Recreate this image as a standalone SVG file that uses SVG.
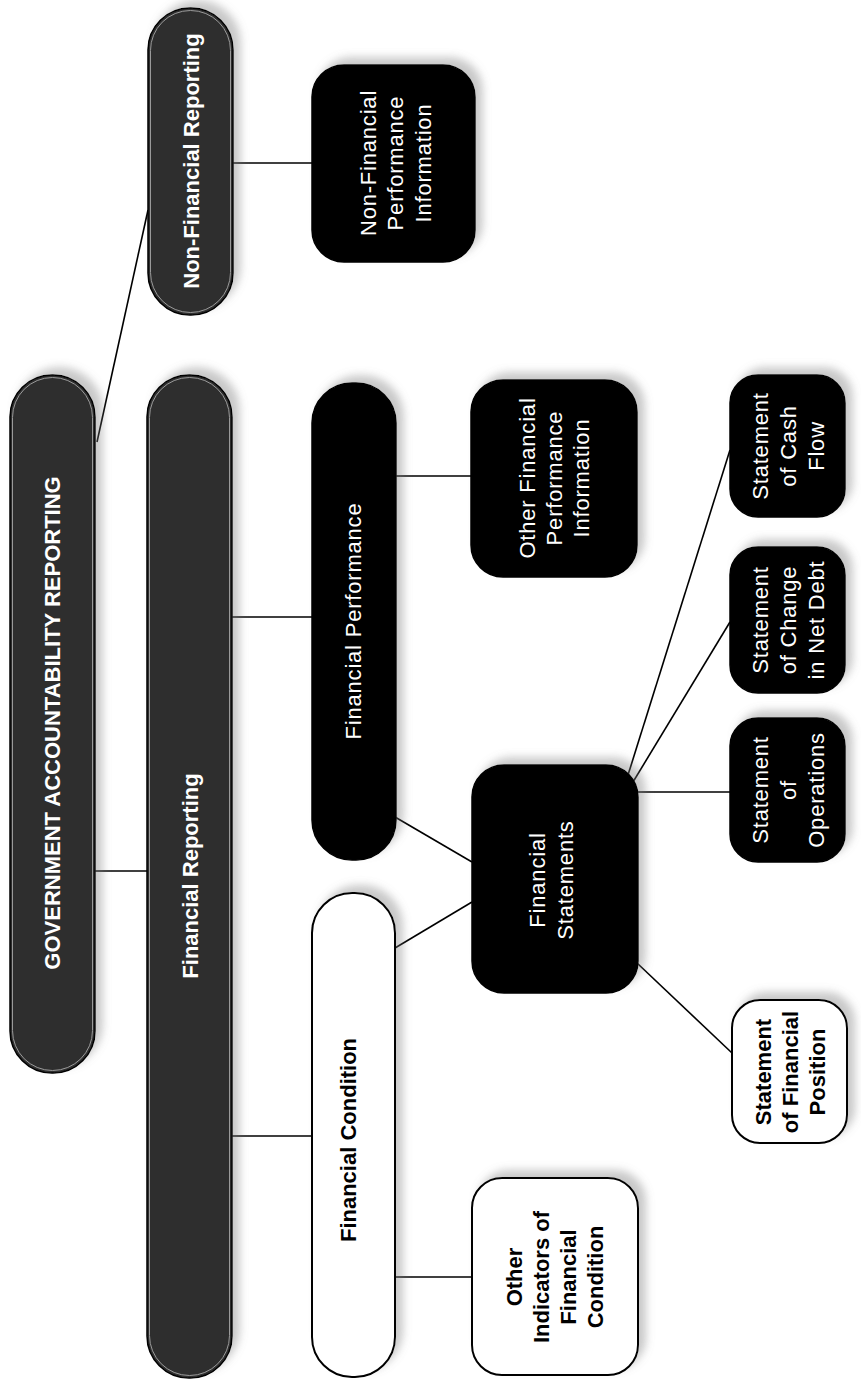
<svg xmlns="http://www.w3.org/2000/svg" width="861" height="1380" viewBox="0 0 861 1380">
<style>
.bg{fill:#ffffff}
.gray{fill:#2e2e2e;stroke:#000;stroke-width:1.5}
.grayin{fill:none;stroke:#9a9a9a;stroke-width:1}
.blk{fill:#000;stroke:#000;stroke-width:1.5}
.wht{fill:#fff;stroke:#000;stroke-width:2}
.con{stroke:#000;stroke-width:1.6;fill:none}
text{font-family:"Liberation Sans",Arial,sans-serif;font-size:22px;text-anchor:middle}
.tb{font-weight:bold;fill:#fff}
.tbk{font-weight:bold;fill:#000}
.tw{fill:#fff;letter-spacing:0.8px}
</style>
<defs>
<filter id="sh" x="-30%" y="-30%" width="160%" height="160%">
<feGaussianBlur in="SourceAlpha" stdDeviation="4" result="b"/>
<feOffset in="b" dx="7" dy="-7" result="o"/>
<feFlood flood-color="#777" flood-opacity="0.4"/>
<feComposite in2="o" operator="in" result="s"/>
<feMerge><feMergeNode in="s"/><feMergeNode in="SourceGraphic"/></feMerge>
</filter>
</defs>
<rect class="bg" x="0" y="0" width="861" height="1380"/>

<g id="connectors">
<line class="con" x1="97" y1="442" x2="148" y2="210"/>
<line class="con" x1="233" y1="163" x2="312" y2="163"/>
<line class="con" x1="95" y1="871" x2="147" y2="871"/>
<line class="con" x1="232" y1="617" x2="312" y2="617"/>
<line class="con" x1="232" y1="1136" x2="312" y2="1136"/>
<line class="con" x1="396" y1="476" x2="471" y2="476"/>
<line class="con" x1="395" y1="817" x2="472" y2="862"/>
<line class="con" x1="395" y1="948" x2="472" y2="902"/>
<line class="con" x1="395" y1="1277" x2="472" y2="1277"/>
<line class="con" x1="638" y1="792" x2="730" y2="792"/>
<line class="con" x1="633" y1="782" x2="730" y2="622"/>
<line class="con" x1="628" y1="775" x2="730" y2="450"/>
<line class="con" x1="637" y1="963" x2="732" y2="1053"/>
</g>

<g id="gov">
<rect class="gray" filter="url(#sh)" x="10" y="375" width="85" height="698" rx="42"/>
<rect class="grayin" x="12.5" y="377.5" width="80" height="693" rx="40"/>
<text class="tb" transform="translate(52,723) rotate(-90)" y="8">GOVERNMENT ACCOUNTABILITY REPORTING</text>
</g>

<g id="nonfin-reporting">
<rect class="gray" filter="url(#sh)" x="148" y="8" width="85" height="307" rx="42"/>
<rect class="grayin" x="150.5" y="10.5" width="80" height="302" rx="40"/>
<text class="tb" transform="translate(191,161) rotate(-90)" y="8">Non-Financial Reporting</text>
</g>

<g id="fin-reporting">
<rect class="gray" filter="url(#sh)" x="147" y="375" width="85" height="1003" rx="42"/>
<rect class="grayin" x="149.5" y="377.5" width="80" height="998" rx="40"/>
<text class="tb" transform="translate(190,876) rotate(-90)" y="8">Financial Reporting</text>
</g>

<g id="nonfin-perf">
<rect class="blk" filter="url(#sh)" x="312" y="65" width="163" height="197" rx="32"/>
<text class="tw" transform="translate(395,163) rotate(-90)"><tspan x="0" y="-19.5">Non-Financial</tspan><tspan x="0" y="8">Performance</tspan><tspan x="0" y="35.5">Information</tspan></text>
</g>

<g id="fin-perf">
<rect class="blk" filter="url(#sh)" x="312" y="383" width="84" height="477" rx="40"/>
<text class="tw" transform="translate(353,621) rotate(-90)" y="8">Financial Performance</text>
</g>

<g id="fin-cond">
<rect class="wht" filter="url(#sh)" x="312" y="893" width="83" height="484" rx="40"/>
<text class="tbk" transform="translate(348,1140) rotate(-90)" y="8">Financial Condition</text>
</g>

<g id="other-fin-perf">
<rect class="blk" filter="url(#sh)" x="471" y="380" width="166" height="197" rx="32"/>
<text class="tw" transform="translate(554,478) rotate(-90)"><tspan x="0" y="-19">Other Financial</tspan><tspan x="0" y="8">Performance</tspan><tspan x="0" y="35">Information</tspan></text>
</g>

<g id="fin-statements">
<rect class="blk" filter="url(#sh)" x="472" y="765" width="166" height="228" rx="32"/>
<text class="tw" transform="translate(551,880) rotate(-90)"><tspan x="0" y="-6">Financial</tspan><tspan x="0" y="22">Statements</tspan></text>
</g>

<g id="other-indicators">
<rect class="wht" filter="url(#sh)" x="472" y="1178" width="166" height="197" rx="30"/>
<text class="tbk" transform="translate(554.5,1277) rotate(-90)"><tspan x="0" y="-32.5">Other</tspan><tspan x="0" y="-5.5">Indicators of</tspan><tspan x="0" y="21.5">Financial</tspan><tspan x="0" y="48.5">Condition</tspan></text>
</g>

<g id="cash-flow">
<rect class="blk" filter="url(#sh)" x="730" y="375" width="115" height="142" rx="28"/>
<text class="tw" transform="translate(788,446) rotate(-90)"><tspan x="0" y="-20">Statement</tspan><tspan x="0" y="8">of Cash</tspan><tspan x="0" y="36">Flow</tspan></text>
</g>

<g id="net-debt">
<rect class="blk" filter="url(#sh)" x="730" y="547" width="115" height="146" rx="28"/>
<text class="tw" transform="translate(788,620) rotate(-90)"><tspan x="0" y="-20">Statement</tspan><tspan x="0" y="8">of Change</tspan><tspan x="0" y="36">in Net Debt</tspan></text>
</g>

<g id="operations">
<rect class="blk" filter="url(#sh)" x="730" y="718" width="115" height="144" rx="28"/>
<text class="tw" transform="translate(788,790) rotate(-90)"><tspan x="0" y="-20">Statement</tspan><tspan x="0" y="8">of</tspan><tspan x="0" y="36">Operations</tspan></text>
</g>

<g id="fin-position">
<rect class="wht" filter="url(#sh)" x="732" y="1000" width="115" height="143" rx="28"/>
<text class="tbk" transform="translate(790,1072) rotate(-90)"><tspan x="0" y="-19">Statement</tspan><tspan x="0" y="8">of Financial</tspan><tspan x="0" y="35">Position</tspan></text>
</g>
</svg>
